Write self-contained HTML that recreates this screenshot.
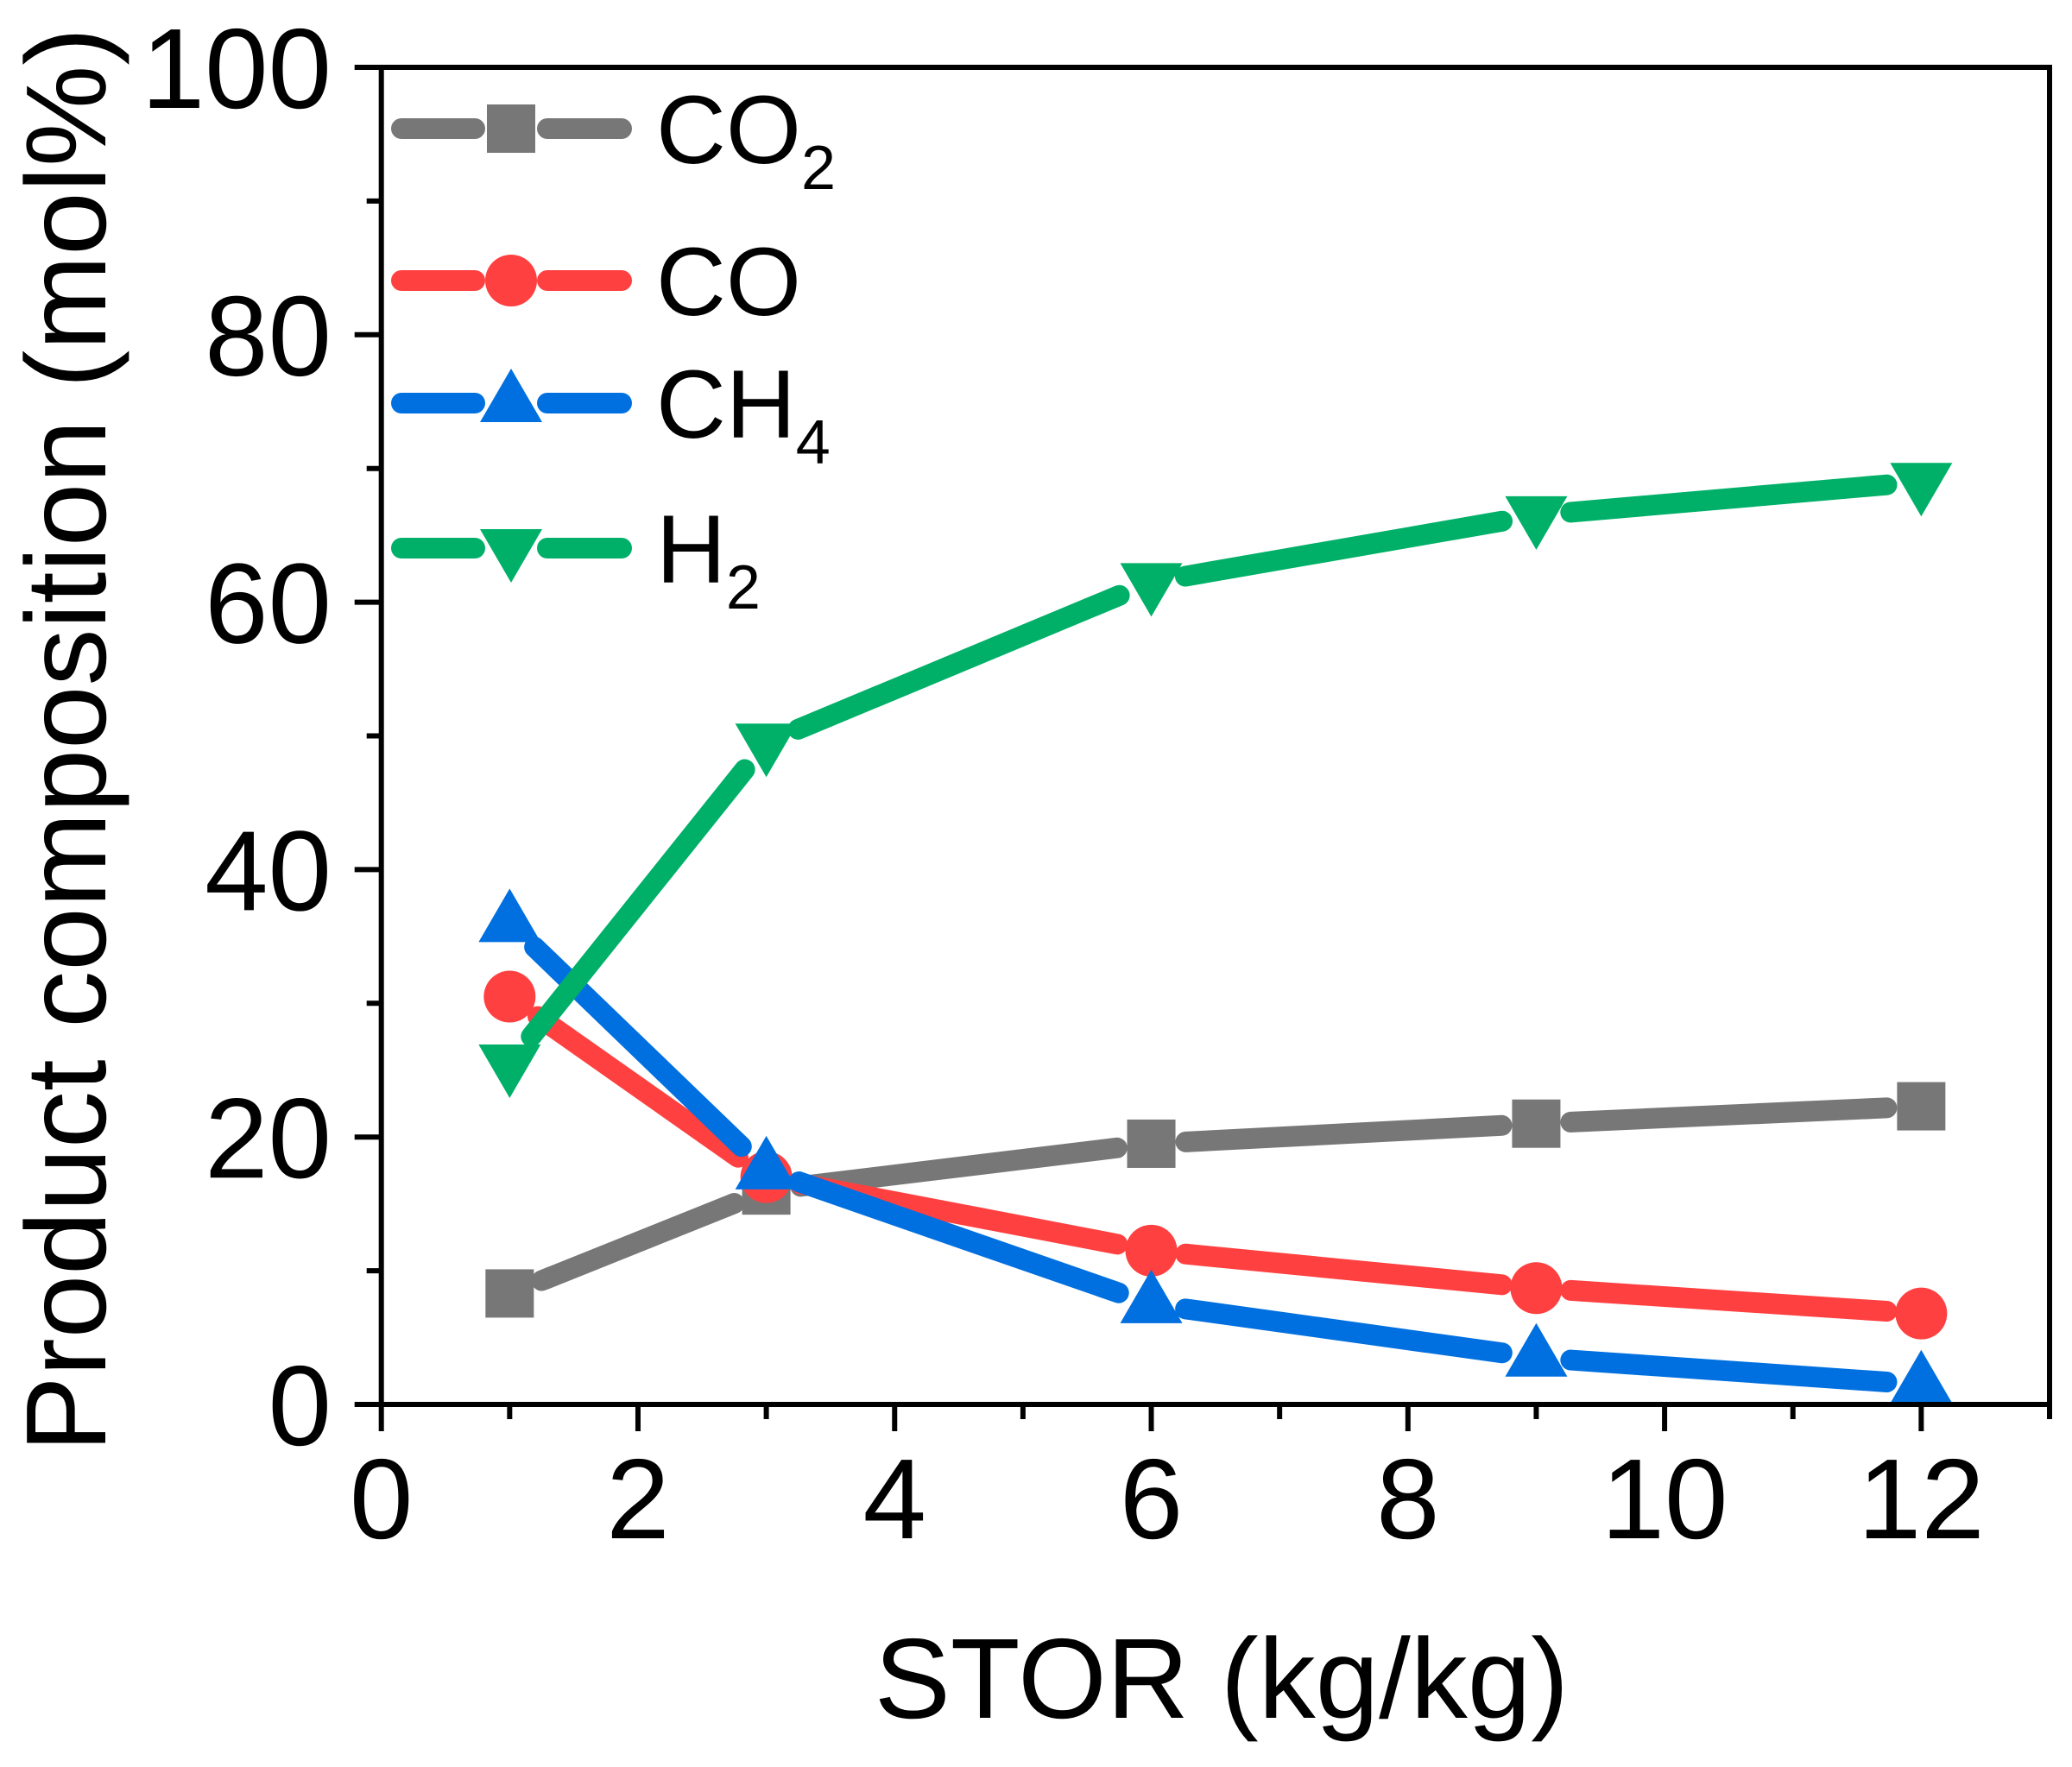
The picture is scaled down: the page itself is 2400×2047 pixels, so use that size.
<!DOCTYPE html>
<html><head><meta charset="utf-8"><style>
html,body{margin:0;padding:0;background:#fff;width:2400px;height:2047px;overflow:hidden}
svg{display:block;font-family:"Liberation Sans",Arial,sans-serif}
</style></head><body>
<svg id="chart" width="2400" height="2047" viewBox="0 0 2400 2047">
<g id="plot"></g>
<g id="axes"></g>
<g id="legend"></g>
<text x="1415" y="1990" font-size="132" text-anchor="middle">STOR (kg/kg)</text>
<text transform="translate(122,857) rotate(-90)" font-size="132" text-anchor="middle">Product composition (mol%)</text>
</svg>
<script>
const categories = [1, 3, 6, 9, 12];
const co2Values = [8.3, 16, 19.5, 21, 22.3];
const coValues = [30.5, 17, 11.5, 8.7, 6.8];
const ch4Values = [36, 17.5, 7.5, 3.5, 1.5];
const h2Values = [25.5, 49.5, 61.5, 66.5, 69];
const xTickLabels = ["0","2","4","6","8","10","12"];
const yTickLabels = ["0","20","40","60","80","100"];
const seriesNames = ["CO2","CO","CH4","H2"];

const NS = "http://www.w3.org/2000/svg";
const X0 = 441.7, X1 = 2374, Y0 = 1627, Y1 = 78, XMAX = 13, YMAX = 100;
function xs(v){ return X0 + (X1 - X0) * v / XMAX; }
function ys(v){ return Y0 - (Y0 - Y1) * v / YMAX; }
function mk(tag, attrs, parent){
  const e = document.createElementNS(NS, tag);
  for (const k in attrs) e.setAttribute(k, attrs[k]);
  parent.appendChild(e); return e;
}
const plot = document.getElementById('plot');
const axes = document.getElementById('axes');
const legend = document.getElementById('legend');

const series = [
  {vals: co2Values, color: "#777777", marker: "square", label: "CO", sub: "2"},
  {vals: coValues, color: "#FF4040", marker: "circle", label: "CO", sub: ""},
  {vals: ch4Values, color: "#0070E0", marker: "up", label: "CH", sub: "4"},
  {vals: h2Values, color: "#00B068", marker: "down", label: "H", sub: "2"}
];

function marker(type, cx, cy, color, parent, name){
  let e;
  if (type === "square") e = mk('rect', {x: cx-28, y: cy-28, width: 56, height: 56, fill: color}, parent);
  else if (type === "circle") e = mk('circle', {cx: cx, cy: cy, r: 30, fill: color}, parent);
  else if (type === "up") e = mk('polygon', {points: `${cx},${cy-40} ${cx+36},${cy+22} ${cx-36},${cy+22}`, fill: color}, parent);
  else e = mk('polygon', {points: `${cx},${cy+40} ${cx+36},${cy-22} ${cx-36},${cy-22}`, fill: color}, parent);
  
  
  return e;
}

const GAP = 40;
series.forEach((s, si) => {
  const g = mk('g', {}, plot);
  
  
  for (let i = 0; i < categories.length - 1; i++) {
    const ax = xs(categories[i]), ay = ys(s.vals[i]);
    const bx = xs(categories[i+1]), by = ys(s.vals[i+1]);
    const dx = bx - ax, dy = by - ay, L = Math.hypot(dx, dy);
    const ux = dx / L, uy = dy / L;
    const ln = mk('line', {x1: ax + ux*GAP, y1: ay + uy*GAP, x2: bx - ux*GAP, y2: by - uy*GAP,
      stroke: s.color, 'stroke-width': 24, 'stroke-linecap': 'round'}, g);
    
    
  }
  categories.forEach((c, i) => {
    marker(s.marker, xs(c), ys(s.vals[i]), s.color, g, 'point-' + seriesNames[si].toLowerCase());
  });
});

const frame = mk('rect', {x: X0, y: Y1, width: X1 - X0, height: Y0 - Y1, fill: 'none', stroke: '#000', 'stroke-width': 6}, axes);


for (let v = 0; v <= XMAX; v++) {
  const major = v % 2 === 0;
  const t = mk('line', {x1: xs(v), y1: Y0, x2: xs(v), y2: Y0 + (major ? 31 : 17), stroke: '#000', 'stroke-width': 6}, axes);
  
  
}
xTickLabels.forEach((lab, i) => {
  const t = mk('text', {x: xs(i*2), y: 1782, 'font-size': 132, 'text-anchor': 'middle'}, axes);
  t.textContent = lab;
  
  
});
for (let v = 0; v <= YMAX; v += 10) {
  const major = v % 20 === 0;
  const t = mk('line', {x1: X0, y1: ys(v), x2: X0 - (major ? 31 : 17), y2: ys(v), stroke: '#000', 'stroke-width': 6}, axes);
  
  
}
yTickLabels.forEach((lab, i) => {
  const t = mk('text', {x: 384, y: ys(i*20) + 47, 'font-size': 132, 'text-anchor': 'end'}, axes);
  t.textContent = lab;
  
  
});

const rowsY = [149, 325, 467, 635];
series.forEach((s, si) => {
  const g = mk('g', {}, legend);
  
  
  const y = rowsY[si];
  mk('line', {x1: 465, y1: y, x2: 550, y2: y, stroke: s.color, 'stroke-width': 24, 'stroke-linecap': 'round'}, g);
  mk('line', {x1: 634, y1: y, x2: 720, y2: y, stroke: s.color, 'stroke-width': 24, 'stroke-linecap': 'round'}, g);
  marker(s.marker, 592, y, s.color, g, 'legend-marker');
  const t = mk('text', {x: 760, y: y + 40, 'font-size': 112}, g);
  
  
  t.appendChild(document.createTextNode(s.label));
  if (s.sub) {
    const ts = mk('tspan', {'font-size': 72, dy: 30}, t);
    ts.textContent = s.sub;
  }
});
</script>
</body></html>
